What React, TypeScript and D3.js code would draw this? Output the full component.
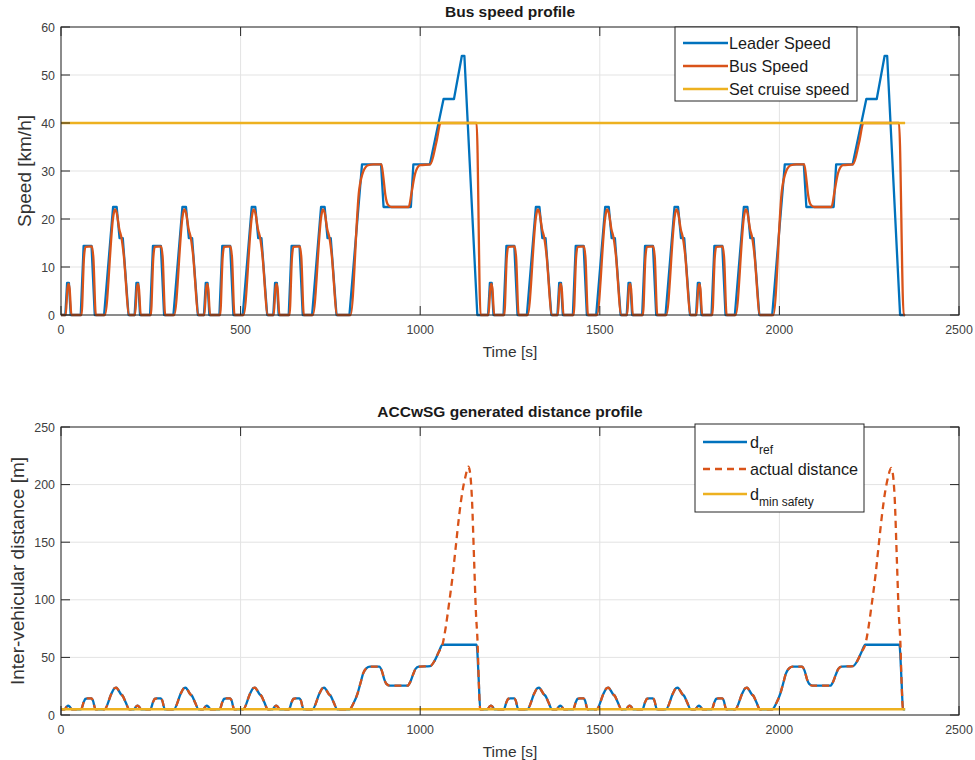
import React from "react";
import * as d3 from "d3";

type P = [number, number];

const timeTicks = [0, 500, 1000, 1500, 2000, 2500];
const speedTicks = [0, 10, 20, 30, 40, 50, 60];
const distTicks = [0, 50, 100, 150, 200, 250];

const leaderSpeed: P[] = [
  [0, 0], [12, 0], [17, 6.7], [22, 6.7], [27, 0], [55, 0], [63, 14.4], [85, 14.4], [94, 0], [120, 0], [145, 22.5], [155, 22.5], [163, 16], [172, 16], [188, 0],
  [205, 0], [210, 6.7], [215, 6.7], [220, 0], [248, 0], [256, 14.4], [278, 14.4], [287, 0], [313, 0], [338, 22.5], [348, 22.5], [356, 16], [365, 16], [381, 0],
  [398, 0], [403, 6.7], [408, 6.7], [413, 0], [441, 0], [449, 14.4], [471, 14.4], [480, 0], [506, 0], [531, 22.5], [541, 22.5], [549, 16], [558, 16], [574, 0],
  [591, 0], [596, 6.7], [601, 6.7], [606, 0], [634, 0], [642, 14.4], [664, 14.4], [673, 0], [699, 0], [724, 22.5], [734, 22.5], [742, 16], [751, 16], [767, 0],
  [803, 0], [838, 31.4], [891, 31.4], [898, 22.5], [974, 22.5], [981, 31.4], [1027, 31.4], [1065, 45], [1094, 45], [1116, 54], [1123, 54], [1159, 0],
  [1189, 0], [1194, 6.7], [1199, 6.7], [1204, 0], [1232, 0], [1240, 14.4], [1262, 14.4], [1271, 0], [1297, 0], [1322, 22.5], [1332, 22.5], [1340, 16], [1349, 16], [1365, 0],
  [1382, 0], [1387, 6.7], [1392, 6.7], [1397, 0], [1425, 0], [1433, 14.4], [1455, 14.4], [1464, 0], [1490, 0], [1515, 22.5], [1525, 22.5], [1533, 16], [1542, 16], [1558, 0],
  [1575, 0], [1580, 6.7], [1585, 6.7], [1590, 0], [1618, 0], [1626, 14.4], [1648, 14.4], [1657, 0], [1683, 0], [1708, 22.5], [1718, 22.5], [1726, 16], [1735, 16], [1751, 0],
  [1768, 0], [1773, 6.7], [1778, 6.7], [1783, 0], [1811, 0], [1819, 14.4], [1841, 14.4], [1850, 0], [1876, 0], [1901, 22.5], [1911, 22.5], [1919, 16], [1928, 16], [1944, 0],
  [1980, 0], [2015, 31.4], [2068, 31.4], [2075, 22.5], [2151, 22.5], [2158, 31.4], [2204, 31.4], [2242, 45], [2271, 45], [2293, 54], [2300, 54], [2336, 0], [2350, 0],
];

const busSpeed: P[] = [
  [0, 0], [13, 0], [18, 5.5], [21, 6.5], [24, 5.5], [29, 0], [57, 0], [64, 12], [68, 14.2], [86, 14.3], [90, 12], [97, 0], [122, 0], [146, 20.8], [150, 22], [155, 21.3], [162, 18], [169, 15.8], [174, 13], [190, 0],
  [206, 0], [211, 5.5], [214, 6.5], [217, 5.5], [222, 0], [250, 0], [257, 12], [261, 14.2], [279, 14.3], [283, 12], [290, 0], [315, 0], [339, 20.8], [343, 22], [348, 21.3], [355, 18], [362, 15.8], [367, 13], [383, 0],
  [399, 0], [404, 5.5], [407, 6.5], [410, 5.5], [415, 0], [443, 0], [450, 12], [454, 14.2], [472, 14.3], [476, 12], [483, 0], [508, 0], [532, 20.8], [536, 22], [541, 21.3], [548, 18], [555, 15.8], [560, 13], [576, 0],
  [592, 0], [597, 5.5], [600, 6.5], [603, 5.5], [608, 0], [636, 0], [643, 12], [647, 14.2], [665, 14.3], [669, 12], [676, 0], [701, 0], [725, 20.8], [729, 22], [734, 21.3], [741, 18], [748, 15.8], [753, 13], [769, 0],
  [806, 0], [830, 26], [842, 30], [855, 31.2], [870, 31.4], [892, 31.4], [897, 29], [903, 25], [910, 23], [920, 22.5], [968, 22.5], [976, 25.5], [986, 29.5], [1000, 31.2], [1028, 31.4], [1045, 36], [1057, 40], [1157, 40], [1168, 0],
  [1190, 0], [1195, 5.5], [1198, 6.5], [1201, 5.5], [1206, 0], [1234, 0], [1241, 12], [1245, 14.2], [1263, 14.3], [1267, 12], [1274, 0], [1299, 0], [1323, 20.8], [1327, 22], [1332, 21.3], [1339, 18], [1346, 15.8], [1351, 13], [1367, 0],
  [1383, 0], [1388, 5.5], [1391, 6.5], [1394, 5.5], [1399, 0], [1427, 0], [1434, 12], [1438, 14.2], [1456, 14.3], [1460, 12], [1467, 0], [1492, 0], [1516, 20.8], [1520, 22], [1525, 21.3], [1532, 18], [1539, 15.8], [1544, 13], [1560, 0],
  [1576, 0], [1581, 5.5], [1584, 6.5], [1587, 5.5], [1592, 0], [1620, 0], [1627, 12], [1631, 14.2], [1649, 14.3], [1653, 12], [1660, 0], [1685, 0], [1709, 20.8], [1713, 22], [1718, 21.3], [1725, 18], [1732, 15.8], [1737, 13], [1753, 0],
  [1769, 0], [1774, 5.5], [1777, 6.5], [1780, 5.5], [1785, 0], [1813, 0], [1820, 12], [1824, 14.2], [1842, 14.3], [1846, 12], [1853, 0], [1878, 0], [1902, 20.8], [1906, 22], [1911, 21.3], [1918, 18], [1925, 15.8], [1930, 13], [1946, 0],
  [1983, 0], [2007, 26], [2019, 30], [2032, 31.2], [2047, 31.4], [2069, 31.4], [2074, 29], [2080, 25], [2087, 23], [2097, 22.5], [2145, 22.5], [2153, 25.5], [2163, 29.5], [2177, 31.2], [2205, 31.4], [2222, 36], [2234, 40], [2333, 40], [2346, 0], [2350, 0],
];

const cruiseSpeed: P[] = [[0, 40], [2350, 40]];

const dRef: P[] = [
  [0, 5], [10, 5], [16, 7.3], [20, 8.2], [24, 7.3], [30, 5], [56, 5], [63, 11], [68, 14], [74, 14.5], [85, 14.5], [89, 12.5], [96, 5], [121, 5], [141, 19], [149, 23.3], [154, 23.8], [160, 21.5], [167, 18], [172, 16.5], [180, 11], [190, 5],
  [203, 5], [209, 7.3], [213, 8.2], [217, 7.3], [223, 5], [249, 5], [256, 11], [261, 14], [267, 14.5], [278, 14.5], [282, 12.5], [289, 5], [314, 5], [334, 19], [342, 23.3], [347, 23.8], [353, 21.5], [360, 18], [365, 16.5], [373, 11], [383, 5],
  [396, 5], [402, 7.3], [406, 8.2], [410, 7.3], [416, 5], [442, 5], [449, 11], [454, 14], [460, 14.5], [471, 14.5], [475, 12.5], [482, 5], [507, 5], [527, 19], [535, 23.3], [540, 23.8], [546, 21.5], [553, 18], [558, 16.5], [566, 11], [576, 5],
  [589, 5], [595, 7.3], [599, 8.2], [603, 7.3], [609, 5], [635, 5], [642, 11], [647, 14], [653, 14.5], [664, 14.5], [668, 12.5], [675, 5], [700, 5], [720, 19], [728, 23.3], [733, 23.8], [739, 21.5], [746, 18], [751, 16.5], [759, 11], [769, 5],
  [803, 5], [814, 10], [826, 19], [834, 28], [841, 36], [850, 40.5], [860, 42], [886, 42], [893, 38.5], [900, 31], [906, 27], [915, 25.5], [965, 25.5], [972, 28.5], [980, 35], [987, 40], [996, 42], [1028, 42.5], [1040, 47], [1052, 55], [1062, 61], [1157, 61], [1163, 30], [1167, 5],
  [1187, 5], [1193, 7.3], [1197, 8.2], [1201, 7.3], [1207, 5], [1233, 5], [1240, 11], [1245, 14], [1251, 14.5], [1262, 14.5], [1266, 12.5], [1273, 5], [1298, 5], [1318, 19], [1326, 23.3], [1331, 23.8], [1337, 21.5], [1344, 18], [1349, 16.5], [1357, 11], [1367, 5],
  [1380, 5], [1386, 7.3], [1390, 8.2], [1394, 7.3], [1400, 5], [1426, 5], [1433, 11], [1438, 14], [1444, 14.5], [1455, 14.5], [1459, 12.5], [1466, 5], [1491, 5], [1511, 19], [1519, 23.3], [1524, 23.8], [1530, 21.5], [1537, 18], [1542, 16.5], [1550, 11], [1560, 5],
  [1573, 5], [1579, 7.3], [1583, 8.2], [1587, 7.3], [1593, 5], [1619, 5], [1626, 11], [1631, 14], [1637, 14.5], [1648, 14.5], [1652, 12.5], [1659, 5], [1684, 5], [1704, 19], [1712, 23.3], [1717, 23.8], [1723, 21.5], [1730, 18], [1735, 16.5], [1743, 11], [1753, 5],
  [1766, 5], [1772, 7.3], [1776, 8.2], [1780, 7.3], [1786, 5], [1812, 5], [1819, 11], [1824, 14], [1830, 14.5], [1841, 14.5], [1845, 12.5], [1852, 5], [1877, 5], [1897, 19], [1905, 23.3], [1910, 23.8], [1916, 21.5], [1923, 18], [1928, 16.5], [1936, 11], [1946, 5],
  [1980, 5], [1991, 10], [2003, 19], [2011, 28], [2018, 36], [2027, 40.5], [2037, 42], [2063, 42], [2070, 38.5], [2077, 31], [2083, 27], [2092, 25.5], [2142, 25.5], [2149, 28.5], [2157, 35], [2164, 40], [2173, 42], [2205, 42.5], [2217, 47], [2229, 55], [2239, 61], [2334, 61], [2340, 30], [2344, 5], [2350, 5],
];

// actual distance where it departs from d_ref
const actualOvershoot1: P[] = [
  [1062, 61], [1071, 76], [1080, 96], [1090, 120], [1099, 146], [1108, 172], [1117, 193], [1126, 207], [1134, 215.5], [1138, 212], [1144, 188], [1150, 135], [1155, 90], [1160, 61],
];
const actualOvershoot2: P[] = [
  [2239, 61], [2248, 76], [2257, 96], [2267, 120], [2276, 146], [2285, 172], [2294, 193], [2303, 207], [2311, 214.5], [2315, 211], [2321, 188], [2327, 135], [2332, 90], [2337, 61],
];

const dMinSafety: P[] = [[0, 5], [2350, 5]];

const actualDistance: P[] = (() => {
  const wins = [actualOvershoot1, actualOvershoot2];
  const base = dRef.filter(
    (p) => !wins.some((w) => p[0] >= w[0][0] && p[0] <= w[w.length - 1][0])
  );
  return [...base, ...actualOvershoot1, ...actualOvershoot2].sort((a, b) => a[0] - b[0]);
})();

const BLUE = "#0072BD";
const ORANGE = "#D95319";
const YELLOW = "#EDB120";
const FONT = "'Liberation Sans', Arial, Helvetica, sans-serif";
const AX = "#262626";
const GRID = "#e3e3e3";

const L = 61;
const R = 959;

type Series = { data: P[]; color: string; smooth: boolean; dash?: string };
type LegendEntry = { label: React.ReactNode; color: string; dash?: string };

function Panel(props: {
  top: number;
  bottom: number;
  yMax: number;
  yTicks: number[];
  title: string;
  ylabel: string;
  ylabelX: number;
  series: Series[];
  legend: { x: number; y: number; w: number; h: number; rows: number[]; lineX0: number; lineX1: number; textX: number; entries: LegendEntry[] };
}) {
  const { top, bottom, yMax, yTicks, title, ylabel, ylabelX, series, legend } = props;
  const x = d3.scaleLinear().domain([0, 2500]).range([L, R]);
  const y = d3.scaleLinear().domain([0, yMax]).range([bottom, top]);
  const tl = 9;
  return (
    <g>
      {timeTicks.map((t) => (
        <line key={"gx" + t} x1={x(t)} x2={x(t)} y1={top} y2={bottom} stroke={GRID} strokeWidth={1} />
      ))}
      {yTicks.map((t) => (
        <line key={"gy" + t} x1={L} x2={R} y1={y(t)} y2={y(t)} stroke={GRID} strokeWidth={1} />
      ))}
      {series.map((s, i) => {
        const gen = d3
          .line<P>()
          .x((d) => x(d[0]))
          .y((d) => y(d[1]))
          .curve(s.smooth ? d3.curveMonotoneX : d3.curveLinear);
        return (
          <path
            key={i}
            d={gen(s.data) || ""}
            fill="none"
            stroke={s.color}
            strokeWidth={2.3}
            strokeDasharray={s.dash}
            strokeLinejoin="round"
          />
        );
      })}
      <rect x={L} y={top} width={R - L} height={bottom - top} fill="none" stroke={AX} strokeWidth={1} />
      {timeTicks.map((t) => (
        <g key={"tx" + t}>
          <line x1={x(t)} x2={x(t)} y1={bottom} y2={bottom - tl} stroke={AX} />
          <line x1={x(t)} x2={x(t)} y1={top} y2={top + tl} stroke={AX} />
          <text x={x(t)} y={bottom + 19} textAnchor="middle" fontSize={12.4} fill="#404040" fontFamily={FONT}>
            {t}
          </text>
        </g>
      ))}
      {yTicks.map((t) => (
        <g key={"ty" + t}>
          <line x1={L} x2={L + tl} y1={y(t)} y2={y(t)} stroke={AX} />
          <line x1={R} x2={R - tl} y1={y(t)} y2={y(t)} stroke={AX} />
          <text x={L - 6} y={y(t) + 4.5} textAnchor="end" fontSize={12.4} fill="#404040" fontFamily={FONT}>
            {t}
          </text>
        </g>
      ))}
      <text x={(L + R) / 2} y={top - 10} textAnchor="middle" fontSize={15.5} fontWeight="bold" fill="#1a1a1a" fontFamily={FONT}>
        {title}
      </text>
      <text x={(L + R) / 2} y={bottom + 42} textAnchor="middle" fontSize={15.5} fill="#333" fontFamily={FONT}>
        Time [s]
      </text>
      <text
        transform={`translate(${ylabelX},${(top + bottom) / 2}) rotate(-90)`}
        textAnchor="middle"
        fontSize={19}
        fill="#333"
        fontFamily={FONT}
      >
        {ylabel}
      </text>
      <rect x={legend.x} y={legend.y} width={legend.w} height={legend.h} fill="#fff" stroke={AX} strokeWidth={1} />
      {legend.entries.map((e, i) => (
        <g key={"lg" + i}>
          <line
            x1={legend.lineX0}
            x2={legend.lineX1}
            y1={legend.rows[i]}
            y2={legend.rows[i]}
            stroke={e.color}
            strokeWidth={2.3}
            strokeDasharray={e.dash}
          />
          <text x={legend.textX} y={legend.rows[i] + 5.5} fontSize={16.2} fill="#1a1a1a" fontFamily={FONT}>
            {e.label}
          </text>
        </g>
      ))}
    </g>
  );
}

export default function App() {
  return (
    <div style={{ position: "absolute", left: 0, top: 0 }}>
      <svg width={975} height={760} style={{ display: "block", background: "#fff" }}>
        <rect x={0} y={0} width={975} height={760} fill="#fff" />
        <Panel
          top={27}
          bottom={315}
          yMax={60}
          yTicks={speedTicks}
          title="Bus speed profile"
          ylabel="Speed [km/h]"
          ylabelX={31}
          series={[
            { data: leaderSpeed, color: BLUE, smooth: false },
            { data: busSpeed, color: ORANGE, smooth: true },
            { data: cruiseSpeed, color: YELLOW, smooth: false },
          ]}
          legend={{
            x: 675,
            y: 27,
            w: 182,
            h: 74,
            rows: [43, 66, 89],
            lineX0: 683,
            lineX1: 728,
            textX: 729,
            entries: [
              { label: "Leader Speed", color: BLUE },
              { label: "Bus Speed", color: ORANGE },
              { label: "Set cruise speed", color: YELLOW },
            ],
          }}
        />
        <Panel
          top={427}
          bottom={715}
          yMax={250}
          yTicks={distTicks}
          title="ACCwSG generated distance profile"
          ylabel="Inter-vehicular distance [m]"
          ylabelX={24}
          series={[
            { data: dRef, color: BLUE, smooth: true },
            { data: actualDistance, color: ORANGE, smooth: true, dash: "7,5" },
            { data: dMinSafety, color: YELLOW, smooth: false },
          ]}
          legend={{
            x: 695,
            y: 424,
            w: 169,
            h: 88,
            rows: [442, 469, 494],
            lineX0: 703,
            lineX1: 747,
            textX: 750,
            entries: [
              {
                label: (
                  <>
                    <tspan>d</tspan>
                    <tspan dy={6} fontSize={12}>ref</tspan>
                  </>
                ),
                color: BLUE,
              },
              { label: "actual distance", color: ORANGE, dash: "7,5" },
              {
                label: (
                  <>
                    <tspan>d</tspan>
                    <tspan dy={6} fontSize={12}>min safety</tspan>
                  </>
                ),
                color: YELLOW,
              },
            ],
          }}
        />
      </svg>
    </div>
  );
}
